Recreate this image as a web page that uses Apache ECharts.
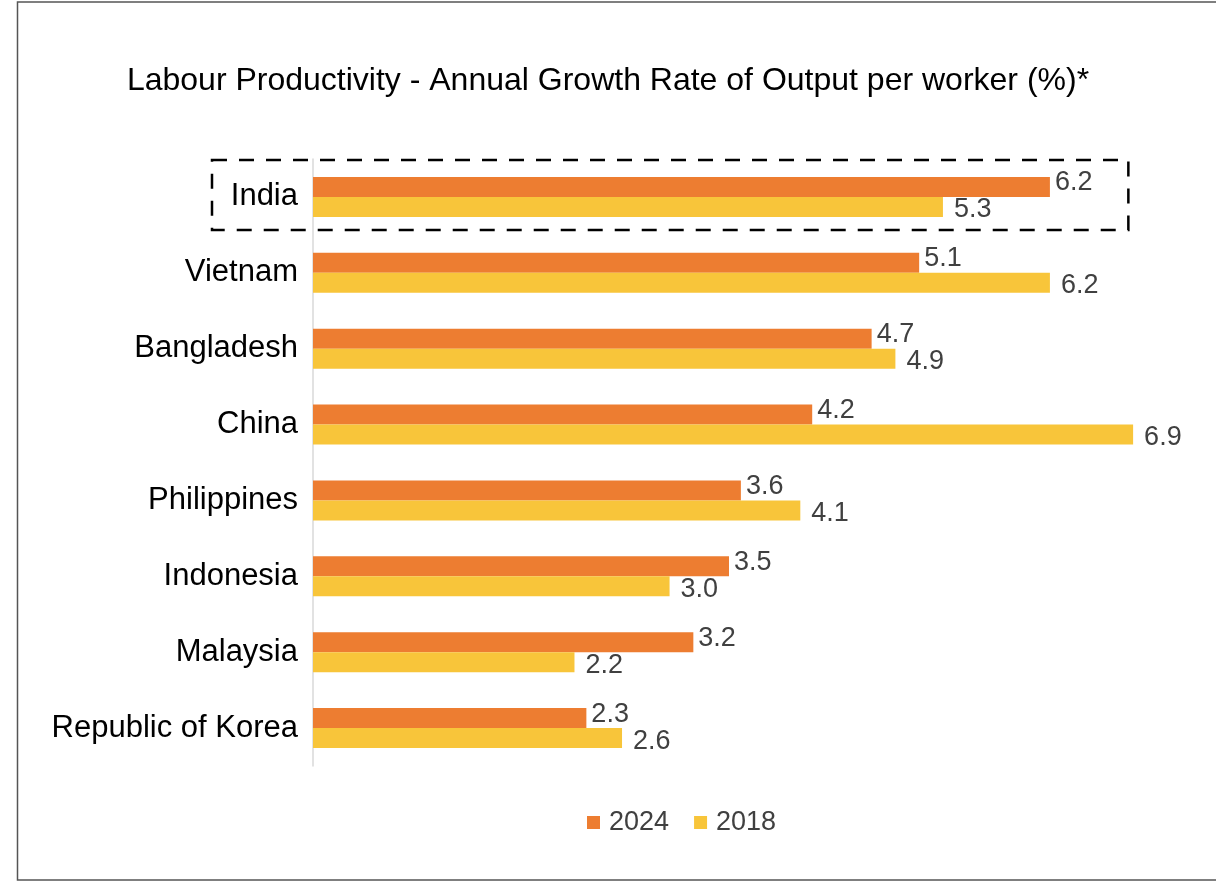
<!DOCTYPE html>
<html>
<head>
<meta charset="utf-8">
<script src="https://cdn.jsdelivr.net/npm/echarts@6/dist/echarts.min.js"></script>
<style>
html,body{margin:0;padding:0;background:#fff;}
#c{width:1216px;height:882px;}
</style>
</head>
<body>
<div id="c"></div>
<script>
const categories = ['India','Vietnam','Bangladesh','China','Philippines','Indonesia','Malaysia','Republic of Korea'];
const values2024 = [6.2, 5.1, 4.7, 4.2, 3.6, 3.5, 3.2, 2.3];
const values2018 = [5.3, 6.2, 4.9, 6.9, 4.1, 3.0, 2.2, 2.6];
const seriesNames = ['2024', '2018'];
const titleText = 'Labour Productivity - Annual Growth Rate of Output per worker (%)*';
const highlighted = 'India';

const FONT = "'Liberation Sans', Arial, Helvetica, sans-serif";
const chart = echarts.init(document.getElementById('c'), null, {renderer:'canvas'});

const labelCommon = {
  show: true, position: 'right', distance: 5,
  color: '#404040', fontSize: 27, fontFamily: FONT,
  formatter: p => p.value.toFixed(1)
};

chart.setOption({
  backgroundColor: '#fff',
  animation: false,
  title: {
    text: titleText, left: 'center', top: 60,
    textStyle: {color: '#000', fontSize: 32, fontWeight: 'normal', fontFamily: FONT}
  },
  legend: {
    data: seriesNames, left: 582, top: 804,
    icon: 'rect', itemWidth: 13, itemHeight: 13, itemGap: 25,
    textStyle: {color: '#404040', fontSize: 27, fontFamily: FONT, padding: [0,0,0,4]}
  },
  grid: {left: 313, right: 71, top: 159, bottom: 116, containLabel: false},
  xAxis: {
    type: 'value', min: 0, max: 7, show: false,
    splitLine: {show: false}
  },
  yAxis: {
    type: 'category', data: categories, inverse: true,
    axisLine: {show: true, lineStyle: {color: '#d9d9d9', width: 1.5}},
    axisTick: {show: false},
    axisLabel: {color: '#000', fontSize: 31, fontFamily: FONT, margin: 15}
  },
  series: [
    {
      name: seriesNames[0], type: 'bar', data: values2024,
      barWidth: 20, barGap: '0%',
      itemStyle: {color: '#ED7D31'},
      label: Object.assign({}, labelCommon, {offset: [0, -4]})
    },
    {
      name: seriesNames[1], type: 'bar', data: values2018,
      barWidth: 20, barGap: '0%',
      itemStyle: {color: '#F8C53A'},
      label: Object.assign({}, labelCommon, {offset: [6, 3]})
    }
  ]
});

// annotation box around the highlighted category and page border
const yc = chart.convertToPixel({yAxisIndex: 0}, highlighted);
const xr = chart.convertToPixel({xAxisIndex: 0}, 6.86);
chart.setOption({
  graphic: [
    {
      type: 'rect', silent: true,
      shape: {x: 212, y: yc - 37, width: xr - 212, height: 70},
      style: {fill: 'none', stroke: '#000', lineWidth: 2.5, lineDash: [15, 12]}
    },
    {
      type: 'rect', silent: true,
      shape: {x: 17.5, y: 2, width: 1260, height: 878},
      style: {fill: 'none', stroke: '#555', lineWidth: 1.5}
    }
  ]
});
</script>
</body>
</html>
